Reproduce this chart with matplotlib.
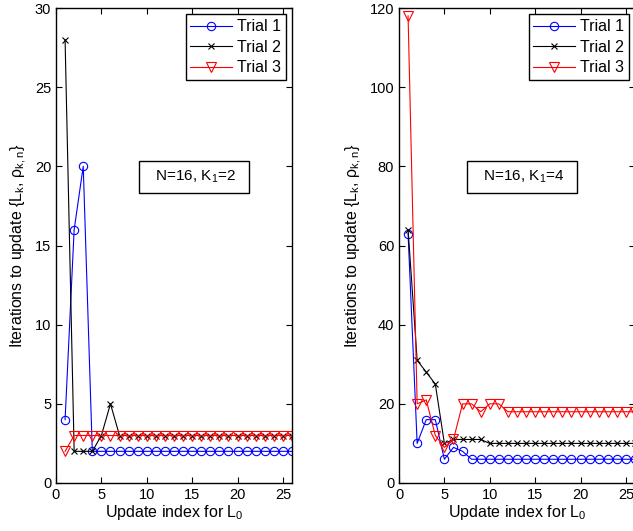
import numpy as np
import matplotlib
matplotlib.use("Agg")
import matplotlib.pyplot as plt

plt.rcParams['font.family'] = ['Liberation Sans', 'DejaVu Sans']
plt.rcParams['mathtext.fontset'] = 'custom'
plt.rcParams['mathtext.rm'] = 'Liberation Sans'
plt.rcParams['mathtext.it'] = 'Liberation Sans'

idx = np.arange(1, 27)

# left panel: N=16, K1=2
left_t1 = [4, 16, 20, 2] + [2] * 22
left_t2 = [28, 2, 2, 2, 3, 5, 3] + [3] * 19
left_t3 = [2] + [3] * 25

# right panel: N=16, K1=4
right_t1 = [63, 10, 16, 16, 6, 9, 8] + [6] * 19
right_t2 = [64, 31, 28, 25, 10, 11, 11, 11, 11] + [10] * 17
right_t3 = [118, 20, 21, 12, 9, 11, 20, 20, 18, 20, 20] + [18] * 15

labels = ['Trial 1', 'Trial 2', 'Trial 3']
boxes = ['  N=16, K$_1$=2  ', '  N=16, K$_1$=4  ']

fig = plt.figure(figsize=(6.33, 5.31), dpi=100)
W, H = 633, 531
ax1 = fig.add_axes([56 / W, 48 / H, 236 / W, 475 / H])
ax2 = fig.add_axes([399 / W, 48 / H, 236 / W, 475 / H])

panels = [
    (ax1, left_t1, left_t2, left_t3, 30, 5, boxes[0], 139),
    (ax2, right_t1, right_t2, right_t3, 120, 20, boxes[1], 467),
]

for ax, t1, t2, t3, ymax, ystep, box, bx in panels:
    ax.plot(idx, t1, color='blue', marker='o', mfc='none', ms=6, lw=0.8, mew=0.8, label=labels[0])
    ax.plot(idx, t2, color='black', marker='x', ms=4, lw=0.8, mew=0.8, label=labels[1])
    ax.plot(idx, t3, color='red', marker='v', mfc='none', ms=6.5, lw=0.8, mew=0.8, label=labels[2])
    ax.set_xlim(0, 26)
    ax.set_ylim(0, ymax)
    ax.set_xticks(np.arange(0, 26, 5))
    ax.set_yticks(np.arange(0, ymax + 1, ystep))
    ax.tick_params(direction='in', top=True, right=True, labelsize=10.5, length=4, width=0.8)
    for s in ax.spines.values():
        s.set_linewidth(1.0)
    ax.set_xlabel('Update index for L$_0$', fontsize=11.5, labelpad=1)
    ax.set_ylabel(r'Iterations to update {L$_k$, $\rho_{k,n}$}', fontsize=11.5, labelpad=4)
    leg = ax.legend(loc='upper right', fontsize=11.5, numpoints=1, fancybox=False,
                    framealpha=1, edgecolor='black', borderaxespad=0.4,
                    handlelength=2.6, handletextpad=0.3, borderpad=0.3, labelspacing=0.35)
    leg.get_frame().set_linewidth(1.0)
    fig.text((bx + 55) / W, 1 - 177 / H, box, fontsize=11, ha='center', va='center',
             bbox=dict(boxstyle='square,pad=0.5', fc='white', ec='black', lw=1.0))

fig.savefig('out.png', dpi=100)
